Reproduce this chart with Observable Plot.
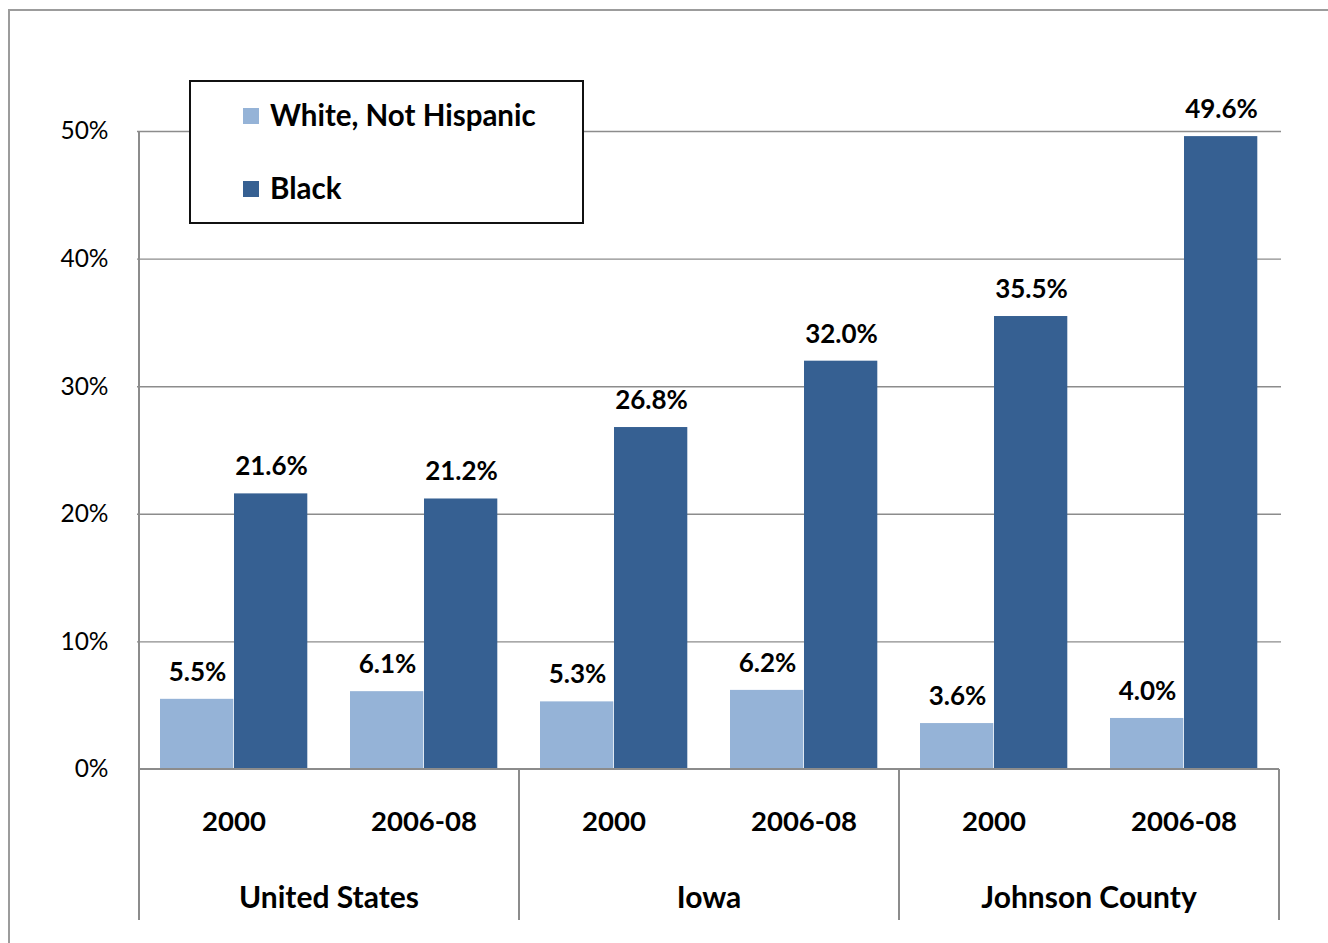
<!DOCTYPE html>
<html>
<head>
<meta charset="utf-8">
<script src="https://cdn.jsdelivr.net/npm/d3@7"></script>
<script src="https://cdn.jsdelivr.net/npm/@observablehq/plot@0.6"></script>
<style>
  html, body { margin: 0; padding: 0; background: #fff; overflow: hidden; }
  #wrap { position: relative; width: 1328px; height: 943px; font-family: Lato, "Open Sans", sans-serif; }
  #frame { position: absolute; left: 8px; top: 9px; width: 1400px; height: 1000px; border: 2px solid #9c9c9c; box-sizing: border-box; pointer-events: none; }
  #legend { position: absolute; left: 189px; top: 80px; width: 395px; height: 144px; border: 2px solid #111; box-sizing: border-box; background: #fff; }
  .item { position: absolute; left: 52px; height: 30px; display: flex; align-items: center; font-weight: 700; font-size: 29.5px; color: #000; white-space: nowrap; }
  .sw { width: 16px; height: 16px; margin-right: 11px; flex: none; margin-top: 3px; }
</style>
</head>
<body>
<div id="wrap"></div>
<script>
// ---- data ----
const groups = ["United States", "United States", "Iowa", "Iowa", "Johnson County", "Johnson County"];
const years = ["2000", "2006-08", "2000", "2006-08", "2000", "2006-08"];
const whiteValues = [5.5, 6.1, 5.3, 6.2, 3.6, 4.0];
const blackValues = [21.6, 21.2, 26.8, 32.0, 35.5, 49.6];
const seriesNames = ["White, Not Hispanic", "Black"];
const seriesColors = ["#95B3D7", "#366092"];
const yTicks = [0, 10, 20, 30, 40, 50];
const groupNames = ["United States", "Iowa", "Johnson County"];

const slots = d3.range(years.length);
const whiteData = slots.map(i => ({slot: i, series: seriesNames[0], value: whiteValues[i]}));
const blackData = slots.map(i => ({slot: i, series: seriesNames[1], value: blackValues[i]}));

const fmt = v => v.toFixed(1) + "%";

// custom hierarchical category axis drawn with the plot's scales
function categoryAxis(index, scales, values, dims) {
  const x = scales.x, y = scales.y;
  const step = x(1) - x(0);
  const y0 = y(0);
  const g = d3.create("svg:g");
  const axisColor = "#8c8c8c";
  const bounds = [0, 2, 4, 6];
  bounds.forEach(b => {
    const px = b < slots.length ? x(b) : x(slots.length - 1) + step;
    g.append("line")
      .attr("x1", px).attr("x2", px)
      .attr("y1", b === 0 ? y(50) : y0).attr("y2", y0 + 151)
      .attr("stroke", axisColor).attr("stroke-width", 2);
  });
  g.append("line")
    .attr("x1", x(0)).attr("x2", x(slots.length - 1) + step)
    .attr("y1", y0).attr("y2", y0)
    .attr("stroke", axisColor).attr("stroke-width", 2);
  slots.forEach(i => {
    g.append("text")
      .attr("x", x(i) + step / 2).attr("y", y0 + 51)
      .attr("text-anchor", "middle").attr("dominant-baseline", "central")
      .attr("font-size", 27.5).attr("font-weight", 700).attr("fill", "#000")
      .text(years[i]);
  });
  groupNames.forEach(name => {
    const idx = slots.filter(i => groups[i] === name);
    const left = x(idx[0]);
    const right = x(idx[idx.length - 1]) + step;
    g.append("text")
      .attr("x", (left + right) / 2).attr("y", y0 + 127)
      .attr("text-anchor", "middle").attr("dominant-baseline", "central")
      .attr("font-size", 30).attr("font-weight", 700).attr("fill", "#000")
      .text(name);
  });
  return g.node();
}

const chart = Plot.plot({
  width: 1328,
  height: 943,
  marginLeft: 137,
  marginRight: 47,
  marginTop: 131,
  marginBottom: 174,
  style: {fontFamily: "Lato, 'Open Sans', sans-serif", background: "transparent"},
  x: {type: "band", domain: slots, padding: 0, axis: null},
  y: {domain: [0, 50], axis: null},
  marks: [
    Plot.gridY(yTicks.filter(t => t > 0), {stroke: "#8c8c8c", strokeOpacity: 1, strokeWidth: 1.4}),
    Plot.axisY(yTicks, {tickFormat: d => d + "%", tickSize: 0, tickPadding: 29, fontSize: 24.5, fill: "#000", label: null}),
    Plot.barY(whiteData, {x: "slot", y: "value", fill: seriesColors[0], insetLeft: 21, insetRight: 95.7}),
    Plot.barY(blackData, {x: "slot", y: "value", fill: seriesColors[1], insetLeft: 95, insetRight: 21.7}),
    Plot.text(whiteData, {x: "slot", y: "value", text: d => fmt(d.value), dx: -37, dy: -27, fontSize: 26, fontWeight: 700, fill: "#000"}),
    Plot.text(blackData, {x: "slot", y: "value", text: d => fmt(d.value), dx: 37, dy: -27, fontSize: 26, fontWeight: 700, fill: "#000"}),
    categoryAxis
  ]
});

const wrap = document.getElementById("wrap");
chart.style.position = "absolute";
chart.style.left = "0px";
chart.style.top = "0px";
wrap.appendChild(chart);

const frame = document.createElement("div");
frame.id = "frame";
wrap.appendChild(frame);

// legend (overlay inside the plot area, as in the reference)
const legend = document.createElement("div");
legend.id = "legend";
seriesNames.forEach((name, i) => {
  const item = document.createElement("div");
  item.className = "item";
  item.style.top = (i === 0 ? 17 : 90) + "px";
  const sw = document.createElement("span");
  sw.className = "sw";
  sw.style.background = seriesColors[i];
  const label = document.createElement("span");
  label.textContent = name;
  item.appendChild(sw);
  item.appendChild(label);
  legend.appendChild(item);
});
wrap.appendChild(legend);
</script>
</body>
</html>
